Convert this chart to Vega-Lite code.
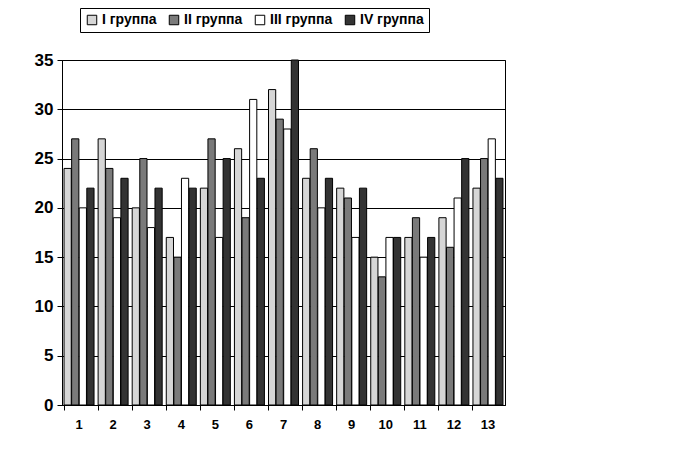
{
  "$schema": "https://vega.github.io/schema/vega-lite/v6.json",
  "width": 443,
  "height": 345,
  "padding": {"left": 62, "top": 60, "right": 174, "bottom": 53},
  "autosize": "none",
  "background": "white",
  "config": {
    "view": {"stroke": "black", "strokeWidth": 1},
    "font": "Liberation Sans"
  },
  "data": {
    "values": [
      {"c": "1", "g": "I группа", "v": 24}, {"c": "1", "g": "II группа", "v": 27}, {"c": "1", "g": "III группа", "v": 20}, {"c": "1", "g": "IV группа", "v": 22},
      {"c": "2", "g": "I группа", "v": 27}, {"c": "2", "g": "II группа", "v": 24}, {"c": "2", "g": "III группа", "v": 19}, {"c": "2", "g": "IV группа", "v": 23},
      {"c": "3", "g": "I группа", "v": 20}, {"c": "3", "g": "II группа", "v": 25}, {"c": "3", "g": "III группа", "v": 18}, {"c": "3", "g": "IV группа", "v": 22},
      {"c": "4", "g": "I группа", "v": 17}, {"c": "4", "g": "II группа", "v": 15}, {"c": "4", "g": "III группа", "v": 23}, {"c": "4", "g": "IV группа", "v": 22},
      {"c": "5", "g": "I группа", "v": 22}, {"c": "5", "g": "II группа", "v": 27}, {"c": "5", "g": "III группа", "v": 17}, {"c": "5", "g": "IV группа", "v": 25},
      {"c": "6", "g": "I группа", "v": 26}, {"c": "6", "g": "II группа", "v": 19}, {"c": "6", "g": "III группа", "v": 31}, {"c": "6", "g": "IV группа", "v": 23},
      {"c": "7", "g": "I группа", "v": 32}, {"c": "7", "g": "II группа", "v": 29}, {"c": "7", "g": "III группа", "v": 28}, {"c": "7", "g": "IV группа", "v": 35},
      {"c": "8", "g": "I группа", "v": 23}, {"c": "8", "g": "II группа", "v": 26}, {"c": "8", "g": "III группа", "v": 20}, {"c": "8", "g": "IV группа", "v": 23},
      {"c": "9", "g": "I группа", "v": 22}, {"c": "9", "g": "II группа", "v": 21}, {"c": "9", "g": "III группа", "v": 17}, {"c": "9", "g": "IV группа", "v": 22},
      {"c": "10", "g": "I группа", "v": 15}, {"c": "10", "g": "II группа", "v": 13}, {"c": "10", "g": "III группа", "v": 17}, {"c": "10", "g": "IV группа", "v": 17},
      {"c": "11", "g": "I группа", "v": 17}, {"c": "11", "g": "II группа", "v": 19}, {"c": "11", "g": "III группа", "v": 15}, {"c": "11", "g": "IV группа", "v": 17},
      {"c": "12", "g": "I группа", "v": 19}, {"c": "12", "g": "II группа", "v": 16}, {"c": "12", "g": "III группа", "v": 21}, {"c": "12", "g": "IV группа", "v": 25},
      {"c": "13", "g": "I группа", "v": 22}, {"c": "13", "g": "II группа", "v": 25}, {"c": "13", "g": "III группа", "v": 27}, {"c": "13", "g": "IV группа", "v": 23}
    ]
  },
  "mark": {"type": "bar", "stroke": "black", "strokeWidth": 1},
  "encoding": {
    "x": {
      "field": "c", "type": "ordinal", "sort": null,
      "scale": {"paddingInner": 0.12, "paddingOuter": 0.06},
      "axis": {"title": null, "labelAngle": 0, "bandPosition": 0, "labelFont": "Liberation Sans", "labelFontWeight": "bold", "labelFontSize": 13, "labelColor": "black", "domainColor": "black", "tickColor": "black", "tickSize": 5, "labelPadding": 8}
    },
    "xOffset": {"field": "g", "type": "nominal", "sort": null, "scale": {"paddingInner": 0.05}},
    "y": {
      "field": "v", "type": "quantitative",
      "scale": {"domain": [0, 35], "nice": false},
      "axis": {"title": null, "values": [0, 5, 10, 15, 20, 25, 30, 35], "gridColor": "black", "gridOpacity": 1, "gridWidth": 1, "labelFont": "Liberation Sans", "labelFontWeight": "bold", "labelFontSize": 17, "labelColor": "black", "domainColor": "black", "tickColor": "black", "tickSize": 5, "labelPadding": 4}
    },
    "fill": {
      "field": "g", "type": "nominal", "sort": null,
      "scale": {"domain": ["I группа", "II группа", "III группа", "IV группа"], "range": ["#d6d6d6", "#7a7a7a", "#ffffff", "#333333"]},
      "legend": {
        "title": null, "orient": "none", "legendX": 18, "legendY": -52, "direction": "horizontal",
        "symbolType": "square", "symbolSize": 90, "symbolStrokeColor": "black", "symbolStrokeWidth": 1,
        "labelFont": "Liberation Sans", "labelFontWeight": "bold", "labelFontSize": 14, "labelColor": "black",
        "strokeColor": "black", "padding": 5, "columnPadding": 10, "labelOffset": 3, "fillColor": "white"
      }
    }
  }
}
